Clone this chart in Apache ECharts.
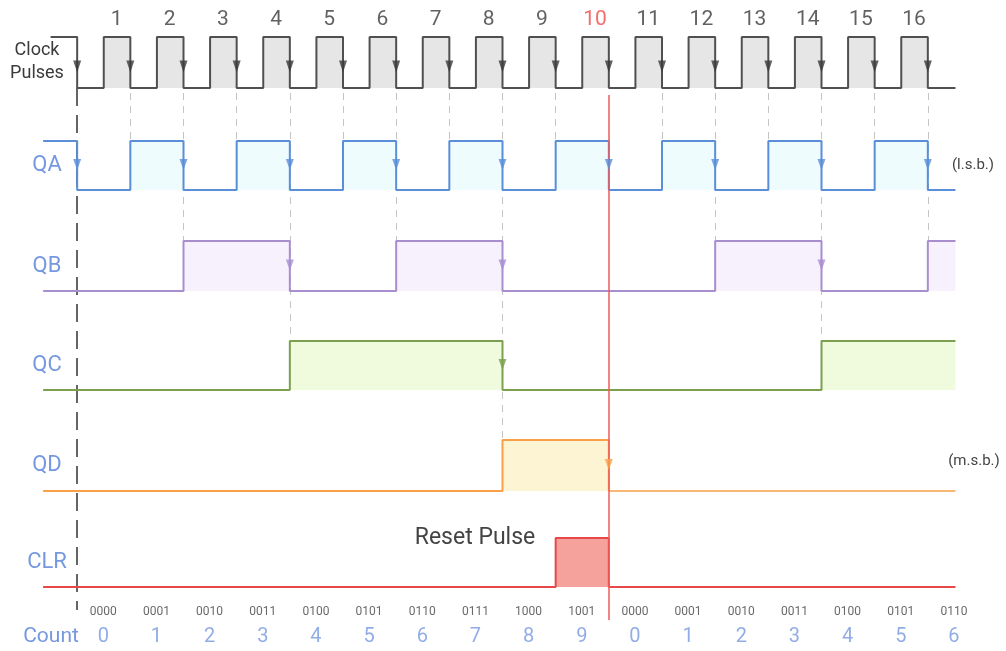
<!DOCTYPE html>
<html>
<head>
<meta charset="utf-8">
<title>Decade counter timing</title>
<style>
  html, body { margin: 0; padding: 0; background: #fff; }
  #main { width: 1006px; height: 651px; }
</style>
<script src="https://cdn.jsdelivr.net/npm/echarts@6/dist/echarts.min.js"></script>
</head>
<body>
<div id="main"></div>
<script>
// clock pulse numbers shown above the clock trace
var clockPulses = ['1', '2', '3', '4', '5', '6', '7', '8', '9', '10', '11', '12', '13', '14', '15', '16'];
var resetPulse = '10';

// count shown under each clock interval
var countValues = ['0', '1', '2', '3', '4', '5', '6', '7', '8', '9', '0', '1', '2', '3', '4', '5', '6'];
var countBinary = ['0000', '0001', '0010', '0011', '0100', '0101', '0110', '0111', '1000', '1001',
                   '0000', '0001', '0010', '0011', '0100', '0101', '0110'];

// output levels: first entry is before clock edge 0, then one per count interval
var qa  = [1, 0, 1, 0, 1, 0, 1, 0, 1, 0, 1, 0, 1, 0, 1, 0, 1, 0];
var qb  = [0, 0, 0, 1, 1, 0, 0, 1, 1, 0, 0, 0, 0, 1, 1, 0, 0, 1];
var qc  = [0, 0, 0, 0, 0, 1, 1, 1, 1, 0, 0, 0, 0, 0, 0, 1, 1, 1];
var qd  = [0, 0, 0, 0, 0, 0, 0, 0, 0, 1, 1, 0, 0, 0, 0, 0, 0, 0];
var clr = [0, 0, 0, 0, 0, 0, 0, 0, 0, 0, 1, 0, 0, 0, 0, 0, 0, 0];

var laneNames = ['QA', 'QB', 'QC', 'QD', 'CLR'];

// layout of the lanes (pixels)
var lanes = [
  { top: 37,  height: 51, line: '#505050', fill: '#e6e6e6', width: 2 },
  { top: 141, height: 49, line: '#5a8ed8', fill: '#effcfe', width: 2 },
  { top: 241, height: 50, line: '#a88ecf', fill: '#f7f1fd', width: 2 },
  { top: 341, height: 49, line: '#7c9f50', fill: '#f0fadc', width: 2 },
  { top: 440, height: 51, line: '#f8a048', fill: '#fdf4d4', width: 2, widthAfterReset: 1.5 },
  { top: 538, height: 49, line: '#e84848', fill: '#f4a29b', width: 2 }
];
var signals = [null, qa, qb, qc, qd, clr];

var X_START = -0.64, X_END = 16.52, CLOCK_START = -0.5;
var FONT = 'Roboto, "Noto Sans", sans-serif';
var LABEL_BLUE = '#7598e0';

var chart = echarts.init(document.getElementById('main'));

var grids = [], xAxes = [], yAxes = [], series = [], graphics = [];

lanes.forEach(function (l, i) {
  grids.push({ left: 24, right: 25, top: l.top, height: l.height });
  xAxes.push({ gridIndex: i, type: 'value', min: -1, max: 17, show: false });
  yAxes.push({ gridIndex: i, type: 'value', min: 0, max: 1, show: false });
});
// overlay grid for vertical guides, y in pixels
var OV = lanes.length;
grids.push({ left: 24, right: 25, top: 0, height: 651 });
xAxes.push({ gridIndex: OV, type: 'value', min: -1, max: 17, show: false });
yAxes.push({ gridIndex: OV, type: 'value', min: 0, max: 651, inverse: true, show: false });

// step trace; `from` skips the leading segments
function stepData(levels, from) {
  var pts = [];
  for (var i = from || 0; i < levels.length; i++) {
    var x0 = i === 0 ? X_START : i - 1;
    var x1 = i === levels.length - 1 ? X_END : i;
    pts.push([x0, levels[i]], [x1, levels[i]]);
  }
  return pts;
}

function clockData(withPre) {
  var pts = withPre ? [[CLOCK_START, 1], [0, 1]] : [];
  for (var k = 0; k <= clockPulses.length; k++) {
    pts.push([k, 0]);
    if (k < clockPulses.length) pts.push([k + 0.5, 0], [k + 0.5, 1], [k + 1, 1]);
    else pts.push([X_END, 0]);
  }
  return pts;
}

var clockBottom = lanes[0].top + lanes[0].height;
var lastLane = lanes[lanes.length - 1];
var resetEdge = clockPulses.indexOf(resetPulse) + 1;

// guides: dashed lines from clock to the deepest output that changes
var guideData = [];
for (var k = 1; k <= clockPulses.length; k++) {
  if (k === resetEdge) continue;
  var deepest = 0;
  for (var s = 1; s <= 4; s++) {
    if (signals[s][k] !== signals[s][k + 1]) deepest = s;
  }
  if (deepest) guideData.push({ coords: [[k, clockBottom + 5], [k, lanes[deepest].top]] });
}

series.push({
  type: 'lines', coordinateSystem: 'cartesian2d', xAxisIndex: OV, yAxisIndex: OV, z: 1,
  silent: true, data: guideData,
  lineStyle: { color: '#c4c4c4', width: 1, type: [7, 6], opacity: 1 }
});
series.push({
  type: 'lines', coordinateSystem: 'cartesian2d', xAxisIndex: OV, yAxisIndex: OV, z: 1,
  silent: true, data: [{ coords: [[0, clockBottom], [0, lastLane.top + lastLane.height + 23]] }],
  lineStyle: { color: '#333', width: 1.5, type: [18, 9], opacity: 1 }
});

// clock fill and trace
series.push({
  type: 'line', xAxisIndex: 0, yAxisIndex: 0, z: 2, clip: false, symbol: 'none', silent: true,
  data: clockData(false),
  lineStyle: { width: 0 },
  areaStyle: { color: lanes[0].fill, opacity: 1 }
});
series.push({
  type: 'line', xAxisIndex: 0, yAxisIndex: 0, z: 3, clip: false, symbol: 'none',
  data: clockData(true),
  lineStyle: { color: lanes[0].line, width: lanes[0].width }
});
// clock arrows at every falling edge
var clockArrows = [];
for (var k = 0; k <= clockPulses.length; k++) clockArrows.push([k, 0.42]);
series.push({
  type: 'scatter', xAxisIndex: 0, yAxisIndex: 0, z: 6, clip: false, silent: true,
  symbol: 'triangle', symbolRotate: 180, symbolSize: [8, 12],
  itemStyle: { color: '#3a3a3a' }, data: clockArrows
});
// pulse numbers
series.push({
  type: 'scatter', xAxisIndex: 0, yAxisIndex: 0, z: 6, clip: false, silent: true,
  symbolSize: 1, itemStyle: { color: 'rgba(0,0,0,0)' },
  data: clockPulses.map(function (p, i) {
    var item = { value: [i + 0.75, 1], name: p };
    if (p === resetPulse) item.label = { color: '#f04848' };
    return item;
  }),
  label: {
    show: true, formatter: '{b}', position: [0, -17], align: 'center', verticalAlign: 'middle',
    fontFamily: FONT, fontSize: 21, color: '#3a3a3a'
  }
});

// outputs
for (var s = 1; s < lanes.length; s++) {
  var pts = stepData(signals[s]);
  series.push({
    type: 'line', xAxisIndex: s, yAxisIndex: s, z: 2, clip: false, symbol: 'none', silent: true,
    data: stepData(signals[s], 1),
    lineStyle: { width: 0 },
    areaStyle: { color: lanes[s].fill, opacity: 1 }
  });
  var main = pts, tail = null;
  if (lanes[s].widthAfterReset) {
    main = pts.filter(function (p) { return p[0] <= resetEdge; });
    tail = pts.filter(function (p) { return p[0] >= resetEdge; });
    tail.shift();
  }
  series.push({
    type: 'line', xAxisIndex: s, yAxisIndex: s, z: 3, clip: false, symbol: 'none',
    data: main,
    lineStyle: { color: lanes[s].line, width: lanes[s].width }
  });
  if (tail) {
    series.push({
      type: 'line', xAxisIndex: s, yAxisIndex: s, z: 3, clip: false, symbol: 'none',
      data: tail,
      lineStyle: { color: lanes[s].line, width: lanes[s].widthAfterReset }
    });
  }
  if (s < 5) {
    var arrows = [];
    for (var e = 0; e <= clockPulses.length; e++) {
      if (signals[s][e] === 1 && signals[s][e + 1] === 0) arrows.push([e, 0.52]);
    }
    series.push({
      type: 'scatter', xAxisIndex: s, yAxisIndex: s, z: 6, clip: false, silent: true,
      symbol: 'triangle', symbolRotate: 180, symbolSize: [8, 11],
      itemStyle: { color: lanes[s].line }, data: arrows
    });
  }
}

// reset line
series.push({
  type: 'lines', coordinateSystem: 'cartesian2d', xAxisIndex: OV, yAxisIndex: OV, z: 5,
  silent: true, data: [{ coords: [[resetEdge, clockBottom + 7], [resetEdge, lastLane.top + lastLane.height + 33]] }],
  lineStyle: { color: '#f05a5a', width: 1.5, type: 'solid', opacity: 1 }
});

// count labels under the CLR lane
var C = lanes.length - 1;
series.push({
  type: 'scatter', xAxisIndex: C, yAxisIndex: C, z: 6, clip: false, silent: true,
  symbolSize: 1, itemStyle: { color: 'rgba(0,0,0,0)' },
  data: countBinary.map(function (b, i) { return { value: [i + 0.5, 0], name: b }; }),
  label: {
    show: true, formatter: '{b}', position: [0, 25], align: 'center', verticalAlign: 'middle',
    fontFamily: FONT, fontSize: 12, color: '#444'
  }
});
series.push({
  type: 'scatter', xAxisIndex: C, yAxisIndex: C, z: 6, clip: false, silent: true,
  symbolSize: 1, itemStyle: { color: 'rgba(0,0,0,0)' },
  data: countValues.map(function (c, i) { return { value: [i + 0.5, 0], name: c }; }),
  label: {
    show: true, formatter: '{b}', position: [0, 50], align: 'center', verticalAlign: 'middle',
    fontFamily: FONT, fontSize: 20, color: LABEL_BLUE
  }
});

// texts
function text(str, x, y, size, color, align) {
  graphics.push({
    type: 'text', x: x, y: y, z: 10, silent: true,
    style: { text: str, fill: color, font: size + 'px ' + FONT,
             textAlign: align || 'center', textVerticalAlign: 'middle' }
  });
}
laneNames.forEach(function (n, i) {
  var l = lanes[i + 1];
  text(n, 47, l.top + l.height / 2, 22, LABEL_BLUE);
});
text('Clock', 37, 50, 18, '#3a3a3a');
text('Pulses', 37, 73, 18, '#3a3a3a');
text('Count', 51, 637, 21, LABEL_BLUE);
text('Reset Pulse', 475, 538, 23, '#444');
text('(l.s.b.)', 973, 165, 15, '#444');
text('(m.s.b.)', 974, 461, 15, '#444');

chart.setOption({
  animation: false,
  backgroundColor: '#fff',
  grid: grids,
  xAxis: xAxes,
  yAxis: yAxes,
  series: series,
  graphic: graphics
});
</script>
</body>
</html>
